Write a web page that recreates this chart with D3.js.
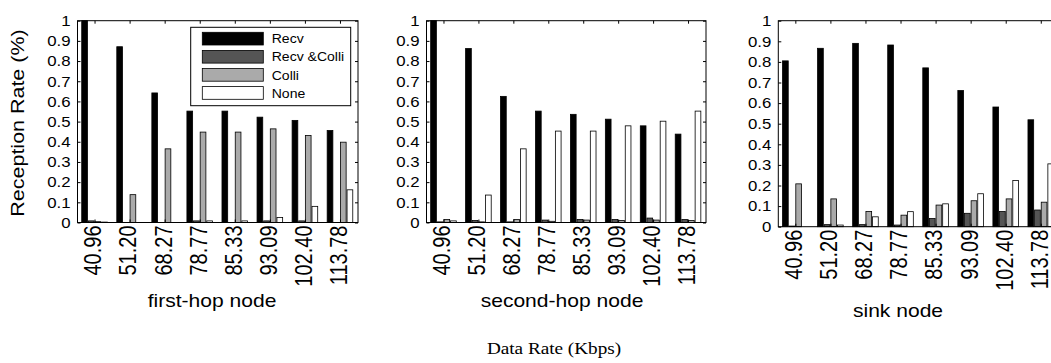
<!DOCTYPE html>
<html>
<head>
<meta charset="utf-8">
<script src="https://cdn.jsdelivr.net/npm/d3@7"></script>
<style>
  body { margin: 0; background: #fff; }
  svg { display: block; }
  text { font-family: "Liberation Sans", Arial, sans-serif; fill: #000; }
</style>
</head>
<body>
<div id="chart"></div>
<script>
// data rates (Kbps) used as the categories
const categories = ["40.96", "51.20", "68.27", "78.77", "85.33", "93.09", "102.40", "113.78"];
const series = ["Recv", "Recv &Colli", "Colli", "None"];
const seriesColors = ["#000000", "#555555", "#aaaaaa", "#ffffff"];
const yTickValues = [0, 0.1, 0.2, 0.3, 0.4, 0.5, 0.6, 0.7, 0.8, 0.9, 1];
const yTickLabels = ["0", "0.1", "0.2", "0.3", "0.4", "0.5", "0.6", "0.7", "0.8", "0.9", "1"];

// first-hop node
const firstHopRecv      = [1.0, 0.871, 0.642, 0.552, 0.552, 0.522, 0.506, 0.456];
const firstHopRecvColli = [0.008, 0, 0, 0.008, 0, 0.008, 0.008, 0];
const firstHopColli     = [0.004, 0.138, 0.365, 0.448, 0.448, 0.464, 0.431, 0.398];
const firstHopNone      = [0.002, 0, 0, 0.008, 0.008, 0.025, 0.08, 0.162];

// second-hop node
const secondHopRecv      = [1.0, 0.862, 0.625, 0.552, 0.536, 0.512, 0.479, 0.438];
const secondHopRecvColli = [0.003, 0.01, 0.003, 0.012, 0.015, 0.015, 0.022, 0.015];
const secondHopColli     = [0.015, 0.003, 0.015, 0.006, 0.012, 0.01, 0.012, 0.01];
const secondHopNone      = [0.008, 0.136, 0.365, 0.453, 0.453, 0.479, 0.502, 0.552];

// sink node
const sinkRecv      = [0.805, 0.866, 0.890, 0.882, 0.771, 0.661, 0.581, 0.519];
const sinkRecvColli = [0.003, 0.01, 0.01, 0.008, 0.04, 0.065, 0.074, 0.081];
const sinkColli     = [0.208, 0.135, 0.074, 0.056, 0.105, 0.126, 0.135, 0.119];
const sinkNone      = [0, 0.008, 0.048, 0.073, 0.111, 0.16, 0.224, 0.305];

const panelTitles = ["first-hop node", "second-hop node", "sink node"];
const panelData = [
  [firstHopRecv, firstHopRecvColli, firstHopColli, firstHopNone],
  [secondHopRecv, secondHopRecvColli, secondHopColli, secondHopNone],
  [sinkRecv, sinkRecvColli, sinkColli, sinkNone]
];

// where each axes box sits in the picture
const layout = [
  { left: 77.5, right: 358, top: 20.7, bottom: 222.5, titleX: 212, titleY: 307 },
  { left: 426.5, right: 706, top: 20.7, bottom: 222.5, titleX: 562, titleY: 307 },
  { left: 778.3, right: 1058.8, top: 20.7, bottom: 226.7, titleX: 898, titleY: 317 }
];

const W = 1051, H = 363;
const svg = d3.select("#chart").append("svg")
  .attr("width", W)
  .attr("height", H);

panelTitles.forEach((title, p) => {
  const L = layout[p];
  const values = panelData[p];

  const x = d3.scaleBand().domain(categories).range([L.left, L.right]).padding(0);
  const inner = d3.scaleBand().domain(series).range([-13.3, 12.3]).paddingInner(0.14);
  const y = d3.scaleLinear().domain([0, 1]).range([L.bottom, L.top]);

  const g = svg.append("g");

  // bars
  series.forEach((s, k) => {
    g.selectAll(null)
      .data(values[k])
      .enter()
      .append("rect")
      .attr("x", (d, i) => x(categories[i]) + x.bandwidth() / 2 + inner(s))
      .attr("y", d => y(d))
      .attr("width", inner.bandwidth())
      .attr("height", d => y(0) - y(d))
      .attr("fill", seriesColors[k])
      .attr("stroke", "#000")
      .attr("stroke-width", 0.8);
  });

  // axes box with inward ticks
  const left = g.append("g").attr("transform", `translate(${L.left},0)`)
    .call(d3.axisLeft(y).tickValues(yTickValues).tickSize(-3).tickFormat((d, i) => yTickLabels[i]));
  left.selectAll("text")
    .attr("x", null)
    .attr("dy", "0.34em")
    .attr("transform", "translate(-7,0) scale(1.2,1)")
    .style("font-size", "14px")
    .style("text-anchor", "end");

  g.append("g").attr("transform", `translate(${L.right},0)`)
    .call(d3.axisRight(y).tickValues(yTickValues).tickSize(-3).tickFormat(""));

  g.append("g").attr("transform", `translate(0,${L.top})`)
    .call(d3.axisTop(x).tickSize(-3).tickFormat(""));

  const bottom = g.append("g").attr("transform", `translate(0,${L.bottom})`)
    .call(d3.axisBottom(x).tickSize(-3));
  bottom.selectAll("text")
    .attr("x", null)
    .attr("y", null)
    .attr("dy", "0.35em")
    .attr("transform", "translate(-1.8,3) scale(1.17,1) rotate(-90)")
    .style("font-size", "20px")
    .style("text-anchor", "end");

  g.selectAll(".tick line").attr("stroke", "#000");
  g.selectAll("path.domain").remove();
  g.append("rect")
    .attr("x", L.left).attr("y", L.top)
    .attr("width", L.right - L.left).attr("height", L.bottom - L.top)
    .attr("fill", "none").attr("stroke", "#000").attr("stroke-width", 1);

  // panel title
  g.append("text")
    .attr("transform", `translate(${L.titleX},${L.titleY}) scale(1.17,1)`)
    .attr("text-anchor", "middle")
    .style("font-size", "18px")
    .text(title);

  if (p === 0) {
    g.append("text")
      .attr("transform", "translate(23.6,123) scale(1,1.13) rotate(-90)")
      .attr("text-anchor", "middle")
      .style("font-size", "19px")
      .text("Reception Rate (%)");

    // legend
    const lg = g.append("g").attr("transform", "translate(190.7,27.3)");
    lg.append("rect")
      .attr("width", 160).attr("height", 78.4)
      .attr("fill", "#fff").attr("stroke", "#000").attr("stroke-width", 1);
    series.forEach((s, k) => {
      lg.append("rect")
        .attr("x", 11.6).attr("y", 5 + k * 18.1)
        .attr("width", 61).attr("height", 12.7)
        .attr("fill", seriesColors[k]).attr("stroke", "#000").attr("stroke-width", 0.8);
      lg.append("text")
        .attr("transform", `translate(81,${5 + k * 18.1 + 11}) scale(1.08,1)`)
        .style("font-size", "13px")
        .text(s);
    });
  }
});

svg.append("text")
  .attr("transform", "translate(554,354) scale(1.2,1)")
  .attr("text-anchor", "middle")
  .style("font-family", "'Liberation Serif', 'Times New Roman', serif")
  .style("font-size", "16px")
  .text("Data Rate (Kbps)");
</script>
</body>
</html>
